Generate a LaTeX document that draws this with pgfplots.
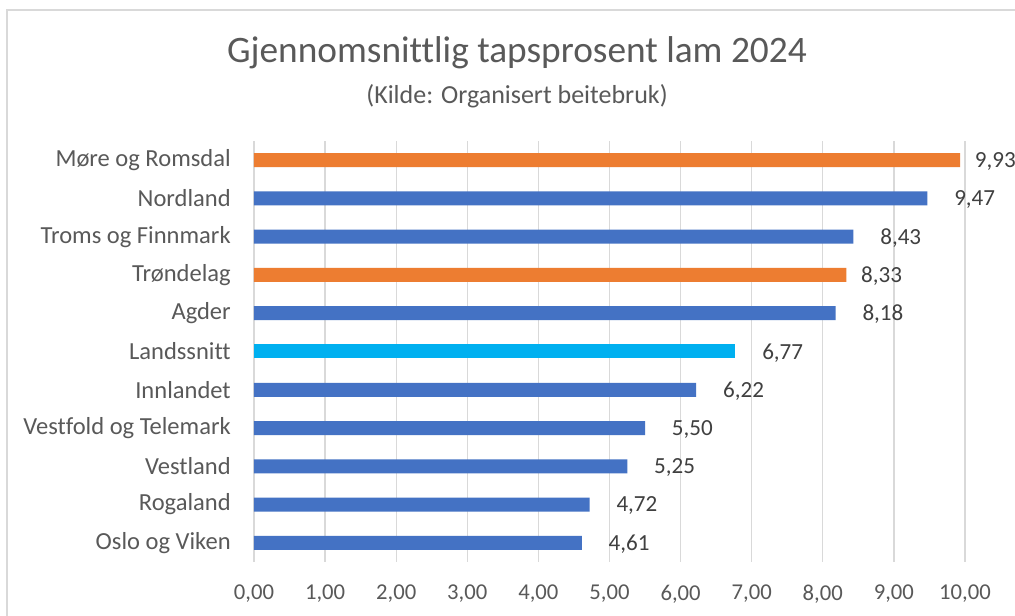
\documentclass[border=0pt]{standalone}
\usepackage{pgfplots}
\pgfplotsset{compat=1.18}
\usepackage{fontspec}
\setmainfont{Carlito}[Ligatures=NoCommon]
\definecolor{cblue}{HTML}{4472C4}
\definecolor{corange}{HTML}{ED7D31}
\definecolor{clight}{HTML}{00B0F0}
\definecolor{tgray}{HTML}{595959}
\definecolor{vgray}{HTML}{404040}
\definecolor{ggray}{HTML}{D9D9D9}
\begin{document}
\begin{tikzpicture}[x=0.75pt,y=0.75pt]
\useasboundingbox (0,0) rectangle (1015,616);
\clip (0,0) rectangle (1015,616);
\fill[white] (0,0) rectangle (1015,616);
\draw[ggray, line width=0.9pt] (7,606) rectangle (1040,-20);
\node[tgray, font=\fontsize{28}{33}\selectfont] at (517,563) {Gjennomsnittlig tapsprosent lam 2024};
\node[tgray, font=\fontsize{19.5}{23}\selectfont] at (517,520) {(Kilde: Organisert beitebruk)};
\begin{axis}[
  at={(190.5pt,40.5pt)}, anchor=south west,
  scale only axis, width=533.25pt, height=315.75pt,
  xmin=0, xmax=10, ymin=-0.5, ymax=10.5,
  axis line style={draw=none},
  xtick={0,1,...,10},
  ytick={0,1,...,10},
  yticklabels={Oslo og Viken,Rogaland,Vestland,Vestfold og Telemark,Innlandet,Landssnitt,Agder,Trøndelag,Troms og Finnmark,Nordland,Møre og Romsdal},
  major tick length=0pt,
  xmajorgrids, major grid style={ggray, line width=0.9pt},
  xticklabel style={inner sep=0pt, anchor=north, yshift=-17pt, text=tgray, font=\fontsize{17}{20}\selectfont,
    /pgf/number format/fixed, /pgf/number format/fixed zerofill, /pgf/number format/precision=2, /pgf/number format/use comma, /pgf/number format/assume math mode=true},
  yticklabel style={inner sep=0pt, anchor=east, xshift=-17.25pt, text=tgray, font=\fontsize{18.4}{22}\selectfont},
  xbar, bar width=10.5pt, bar shift=0pt,
  nodes near coords,
  nodes near coords style={text=vgray, anchor=west, inner sep=0pt, font=\fontsize{17.3}{20}\selectfont,
    /pgf/number format/fixed, /pgf/number format/fixed zerofill, /pgf/number format/precision=2, /pgf/number format/use comma, /pgf/number format/assume math mode=true},
  clip=false,
]
\addplot[fill=cblue, draw=none, nodes near coords style={xshift=20pt, yshift=-1pt}] coordinates {
(4.61,0) (4.72,1) (5.25,2) (5.50,3) (6.22,4) (8.18,6) (8.43,8) (9.47,9)};
\addplot[fill=clight, draw=none, nodes near coords style={xshift=20pt, yshift=-1pt}] coordinates {(6.77,5)};
\addplot[fill=corange, draw=none, nodes near coords style={xshift=11pt, yshift=-1pt}] coordinates {(8.33,7) (9.93,10)};
\end{axis}
\end{tikzpicture}
\end{document}
